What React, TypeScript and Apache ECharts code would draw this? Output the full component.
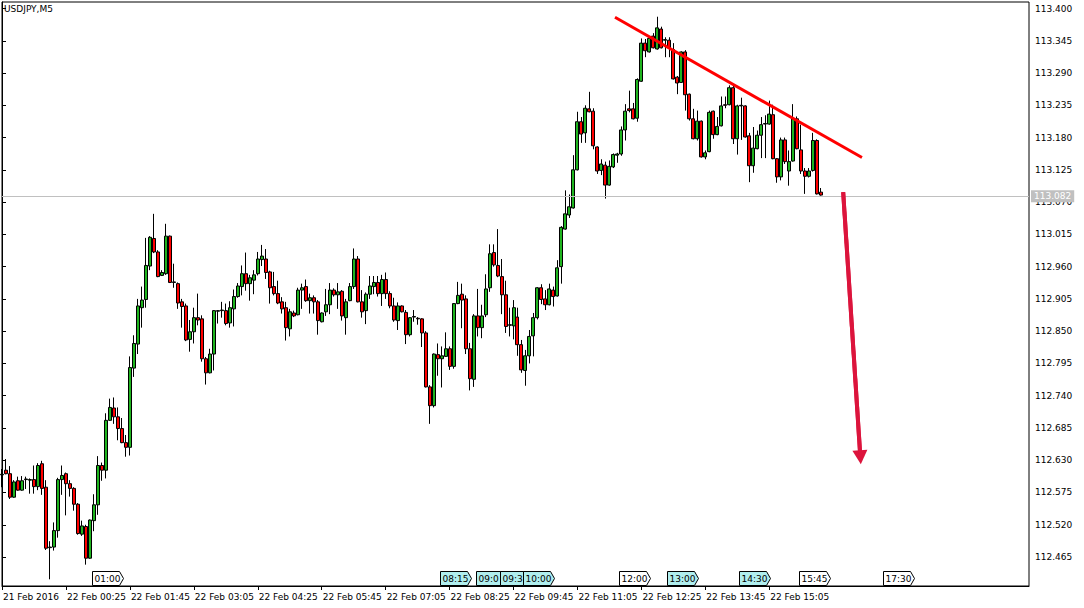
import React, { useEffect, useRef } from "react";
import * as echarts from "echarts";

const opens = [112.605,112.613,112.607,112.567,112.595,112.579,112.597,112.596,112.597,112.585,112.624,112.584,112.481,112.482,112.510,112.597,112.607,112.590,112.582,112.555,112.504,112.517,112.463,112.527,112.554,112.621,112.613,112.698,112.719,112.704,112.684,112.660,112.652,112.787,112.828,112.890,112.904,112.961,113.008,112.985,112.945,112.948,113.012,112.933,112.931,112.900,112.893,112.836,112.849,112.873,112.871,112.803,112.779,112.811,112.884,112.885,112.885,112.864,112.888,112.909,112.926,112.948,112.931,112.937,112.948,112.972,112.973,112.951,112.926,112.914,112.900,112.890,112.854,112.881,112.878,112.920,112.926,112.902,112.907,112.900,112.866,112.883,112.895,112.920,112.912,112.918,112.873,112.902,112.926,112.973,112.900,112.885,112.913,112.926,112.933,112.914,112.938,112.914,112.893,112.868,112.893,112.882,112.844,112.874,112.872,112.871,112.847,112.755,112.723,112.810,112.803,112.807,112.820,112.790,112.897,112.913,112.905,112.820,112.768,112.876,112.856,112.878,112.924,112.984,112.962,112.943,112.912,112.860,112.859,112.874,112.827,112.783,112.808,112.842,112.873,112.924,112.905,112.895,112.920,112.910,112.960,113.024,113.048,113.060,113.125,113.207,113.188,113.229,113.225,113.164,113.124,113.133,113.099,113.130,113.150,113.152,113.193,113.229,113.229,113.213,113.276,113.341,113.326,113.353,113.331,113.365,113.346,113.346,113.330,113.283,113.274,113.326,113.254,113.212,113.178,113.208,113.147,113.156,113.225,113.185,113.200,113.236,113.236,113.265,113.178,113.234,113.234,113.183,113.132,113.161,113.184,113.203,113.203,113.219,113.144,113.113,113.176,113.123,113.140,113.212,113.159,113.123,113.114,113.124,113.175,113.087];

const closes = [112.606,112.607,112.567,112.593,112.579,112.595,112.598,112.597,112.585,112.621,112.582,112.480,112.482,112.510,112.597,112.604,112.590,112.582,112.555,112.505,112.518,112.463,112.528,112.554,112.621,112.613,112.698,112.720,112.704,112.684,112.660,112.652,112.788,112.829,112.893,112.903,112.962,113.010,112.985,112.943,112.950,113.012,112.933,112.934,112.898,112.892,112.835,112.849,112.873,112.869,112.803,112.779,112.811,112.885,112.885,112.886,112.863,112.890,112.909,112.927,112.948,112.931,112.941,112.946,112.973,112.978,112.950,112.924,112.914,112.898,112.888,112.856,112.883,112.876,112.920,112.924,112.902,112.907,112.900,112.868,112.881,112.895,112.920,112.912,112.917,112.876,112.900,112.926,112.973,112.900,112.883,112.913,112.927,112.933,112.914,112.938,112.914,112.893,112.869,112.893,112.883,112.844,112.873,112.875,112.871,112.847,112.755,112.723,112.811,112.803,112.808,112.820,112.790,112.897,112.911,112.903,112.820,112.769,112.876,112.856,112.876,112.922,112.982,112.963,112.944,112.912,112.858,112.861,112.890,112.827,112.784,112.808,112.841,112.873,112.924,112.904,112.895,112.922,112.909,112.958,113.027,113.050,113.062,113.125,113.207,113.186,113.230,113.224,113.166,113.123,113.135,113.099,113.131,113.151,113.152,113.193,113.225,113.226,113.212,113.279,113.341,113.328,113.349,113.333,113.367,113.333,113.347,113.333,113.280,113.273,113.326,113.253,113.212,113.178,113.208,113.147,113.154,113.223,113.185,113.199,113.234,113.235,113.265,113.178,113.234,113.235,113.181,113.132,113.162,113.184,113.202,113.204,113.220,113.144,113.113,113.176,113.139,113.139,113.212,113.161,113.123,113.114,113.123,113.175,113.084,113.082];

const lows = [112.584,112.606,112.564,112.566,112.578,112.578,112.581,112.573,112.573,112.579,112.571,112.477,112.427,112.476,112.498,112.571,112.536,112.568,112.544,112.503,112.501,112.452,112.462,112.509,112.537,112.595,112.599,112.697,112.692,112.664,112.659,112.636,112.638,112.772,112.811,112.856,112.890,112.954,112.983,112.942,112.944,112.946,112.932,112.924,112.888,112.856,112.833,112.815,112.829,112.860,112.798,112.759,112.778,112.783,112.863,112.873,112.860,112.856,112.858,112.907,112.911,112.919,112.902,112.913,112.945,112.961,112.939,112.897,112.911,112.896,112.880,112.834,112.841,112.874,112.877,112.888,112.900,112.880,112.880,112.844,112.865,112.876,112.879,112.909,112.888,112.868,112.844,112.901,112.922,112.899,112.873,112.862,112.905,112.913,112.909,112.893,112.905,112.889,112.866,112.852,112.882,112.828,112.841,112.866,112.861,112.823,112.754,112.692,112.720,112.774,112.754,112.806,112.784,112.786,112.896,112.855,112.811,112.749,112.755,112.841,112.838,112.874,112.917,112.960,112.942,112.879,112.847,112.841,112.836,112.808,112.779,112.757,112.795,112.807,112.870,112.896,112.886,112.894,112.892,112.909,112.931,113.023,113.043,113.059,113.124,113.171,113.171,113.223,113.160,113.118,113.116,113.076,113.098,113.128,113.137,113.149,113.175,113.223,113.211,113.207,113.275,113.317,113.325,113.332,113.330,113.332,113.317,113.317,113.279,113.254,113.273,113.226,113.209,113.177,113.175,113.146,113.143,113.155,113.178,113.184,113.199,113.230,113.235,113.169,113.151,113.176,113.180,113.104,113.120,113.160,113.145,113.145,113.202,113.143,113.103,113.107,113.135,113.098,113.139,113.160,113.118,113.084,113.112,113.122,113.083,113.081];

const highs = [112.615,112.632,112.620,112.596,112.602,112.603,112.602,112.599,112.621,112.625,112.629,112.596,112.492,112.524,112.600,112.621,112.609,112.596,112.584,112.557,112.527,112.520,112.529,112.572,112.637,112.626,112.710,112.735,112.737,112.720,112.702,112.673,112.807,112.843,112.905,112.926,113.009,113.012,113.050,112.988,112.954,113.033,113.013,112.965,112.933,112.905,112.897,112.869,112.890,112.914,112.877,112.806,112.820,112.886,112.886,112.900,112.897,112.901,112.921,112.932,112.962,112.984,112.946,112.954,112.985,112.997,112.990,112.953,112.951,112.936,112.908,112.900,112.888,112.885,112.924,112.931,112.938,112.914,112.911,112.903,112.882,112.922,112.932,112.923,112.932,112.920,112.905,112.932,112.991,112.978,112.920,112.916,112.944,112.944,112.944,112.946,112.950,112.918,112.907,112.899,112.894,112.886,112.874,112.886,112.874,112.872,112.850,112.758,112.812,112.829,112.824,112.848,112.824,112.898,112.934,112.931,112.911,112.830,112.879,112.922,112.895,112.947,112.998,112.998,113.024,112.973,112.936,112.890,112.903,112.890,112.835,112.818,112.852,112.881,112.925,112.930,112.920,112.931,112.926,112.971,113.029,113.090,113.083,113.150,113.224,113.215,113.235,113.258,113.230,113.165,113.143,113.139,113.141,113.153,113.154,113.199,113.237,113.260,113.239,113.281,113.349,113.348,113.352,113.358,113.386,113.369,113.351,113.351,113.341,113.285,113.327,113.329,113.255,113.229,113.226,113.209,113.158,113.226,113.226,113.215,113.250,113.250,113.269,113.269,113.236,113.248,113.235,113.188,113.198,113.192,113.215,113.218,113.243,113.236,113.145,113.180,113.180,113.158,113.237,113.216,113.202,113.128,113.128,113.188,113.177,113.094];

const yTickValues = [112.465,112.52,112.575,112.63,112.685,112.74,112.795,112.85,112.905,112.96,113.015,113.07,113.125,113.18,113.235,113.29,113.345,113.4];
const xTickLabels = ["21 Feb 2016","22 Feb 00:25","22 Feb 01:45","22 Feb 03:05","22 Feb 04:25","22 Feb 05:45","22 Feb 07:05","22 Feb 08:25","22 Feb 09:45","22 Feb 11:05","22 Feb 12:25","22 Feb 13:45","22 Feb 15:05"];
const lastPrice = 113.082;
const trendLine = [[153.4, 113.385], [215.2, 113.146]];
const arrowLine = [[210.5, 113.087], [214.8, 112.635]];
const eventTimes = ["01:00","08:15","09:00","09:30","10:00","12:00","13:00","14:30","15:45","17:30"];
const eventHighlighted = [false,true,true,true,true,false,true,true,false,false];

const SLOTS = 258;
const FONT = "DejaVu Sans";

function buildCategories(): string[] {
  const out: string[] = [];
  for (let i = 0; i < SLOTS; i++) {
    const m = (23 * 60 + 5 + 5 * i) % 1440;
    const hh = String(Math.floor(m / 60)).padStart(2, "0");
    const mm = String(m % 60).padStart(2, "0");
    out.push(hh + ":" + mm);
  }
  return out;
}

export default function App() {
  const ref = useRef<HTMLDivElement>(null);
  useEffect(() => {
    document.body.style.margin = "0";
    if (!ref.current) return;
    const chart = echarts.init(ref.current, undefined, { renderer: "svg" });
    const categories = buildCategories();
    const candles = opens.map((o, i) => [o, closes[i], lows[i], highs[i]]);
    const showTick = (i: number) => i % 16 === 0 && i / 16 < xTickLabels.length;

    chart.setOption({
      animation: false,
      backgroundColor: "#ffffff",
      title: {
        text: "USDJPY,M5",
        left: 4,
        top: 4,
        padding: 0,
        textStyle: { fontSize: 9, fontWeight: "normal", fontFamily: FONT, color: "#000" },
      },
      grid: {
        left: 2,
        top: 2,
        right: 55,
        bottom: 22,
        show: true,
        borderColor: "#000",
        borderWidth: 1,
        backgroundColor: "#fff",
      },
      xAxis: [
        {
          type: "category",
          data: categories,
          boundaryGap: false,
          axisLine: { show: true, lineStyle: { color: "#000", width: 1 } },
          axisTick: { show: true, interval: (i: number) => showTick(i), length: 4, lineStyle: { color: "#000" } },
          axisLabel: {
            interval: (i: number) => showTick(i),
            formatter: (_v: string, i: number) => xTickLabels[i / 16] || "",
            align: "left",
            padding: [0, 0, 0, 1],
            margin: 6,
            color: "#000",
            fontSize: 9,
            fontFamily: FONT,
          },
          splitLine: { show: false },
        },
        { type: "value", min: 0, max: SLOTS - 1, show: false },
      ],
      yAxis: {
        type: "value",
        position: "right",
        min: 112.4156,
        max: 113.4111,
        axisLine: { show: true, lineStyle: { color: "#000", width: 1 } },
        axisTick: { show: true, customValues: yTickValues, length: 4, lineStyle: { color: "#000" } },
        axisLabel: {
          customValues: yTickValues,
          formatter: (v: number) => v.toFixed(3),
          color: "#000",
          fontSize: 9,
          fontFamily: FONT,
          margin: 6,
        },
        splitLine: { show: false },
      },
      series: [
        {
          type: "candlestick",
          xAxisIndex: 0,
          yAxisIndex: 0,
          data: candles,
          barWidth: 3.5,
          itemStyle: {
            color: "#1fb41f",
            color0: "#ff0000",
            borderColor: "#000",
            borderColor0: "#000",
            borderColorDoji: "#000",
            borderWidth: 1,
          },
          emphasis: { disabled: true },
          markLine: {
            silent: true,
            symbol: ["none", "none"],
            lineStyle: { color: "#c0c0c0", width: 1, type: "solid" },
            label: {
              show: true,
              position: "end",
              distance: 2,
              formatter: () => lastPrice.toFixed(3),
              color: "#fff",
              backgroundColor: "#c0c0c0",
              padding: [2, 3, 1, 3],
              fontSize: 9,
              fontFamily: FONT,
            },
            data: [{ yAxis: lastPrice }],
          },
          z: 3,
        },
        {
          type: "line",
          xAxisIndex: 1,
          yAxisIndex: 0,
          data: trendLine,
          symbol: "none",
          lineStyle: { color: "#ff0000", width: 3 },
          silent: true,
          z: 5,
        },
        {
          type: "line",
          xAxisIndex: 1,
          yAxisIndex: 0,
          data: arrowLine,
          symbol: "none",
          lineStyle: { color: "#dc143c", width: 4 },
          silent: true,
          z: 5,
          markLine: {
            silent: true,
            lineStyle: { color: "#dc143c", width: 4, type: "solid" },
            label: { show: false },
            data: [
              [
                { coord: arrowLine[0], symbol: "none" },
                { coord: arrowLine[1], symbol: "triangle", symbolSize: [15, 14] },
              ],
            ],
          },
        },
      ],
    });

    const bottomY = 586;
    const xs = eventTimes.map((t) => {
      const px = chart.convertToPixel({ xAxisIndex: 0 }, categories.indexOf(t)) as number;
      return Math.round(px) - 1.5;
    });
    const graphics: any[] = [];
    eventTimes.forEach((t, k) => {
      const x0 = xs[k];
      const top = bottomY - 15 + 0.5;
      const bot = bottomY - 0.5;
      const next = k + 1 < xs.length ? xs[k + 1] : Infinity;
      const room = next - x0 - 1;
      graphics.push({
        type: "polygon",
        z: 50 + k * 2,
        shape: {
          points: [
            [x0, top],
            [x0 + 27, top],
            [x0 + 31, (top + bot) / 2],
            [x0 + 27, bot],
            [x0, bot],
          ],
        },
        style: { fill: eventHighlighted[k] ? "#b0eeee" : "#ffffff", stroke: "#000", lineWidth: 1 },
      });
      const textStyle: any = {
        text: t,
        fill: "#000",
        fontSize: 9,
        fontFamily: FONT,
        verticalAlign: "middle",
        align: "left",
      };
      if (room < 29) {
        textStyle.width = room;
        textStyle.overflow = "truncate";
        textStyle.ellipsis = "";
      }
      graphics.push({
        type: "text",
        z: 51 + k * 2,
        x: x0 + 2,
        y: (top + bot) / 2 + 0.5,
        style: textStyle,
      });
    });
    chart.setOption({ graphic: graphics });

    return () => chart.dispose();
  }, []);

  return <div ref={ref} style={{ width: 1084, height: 608 }} />;
}
